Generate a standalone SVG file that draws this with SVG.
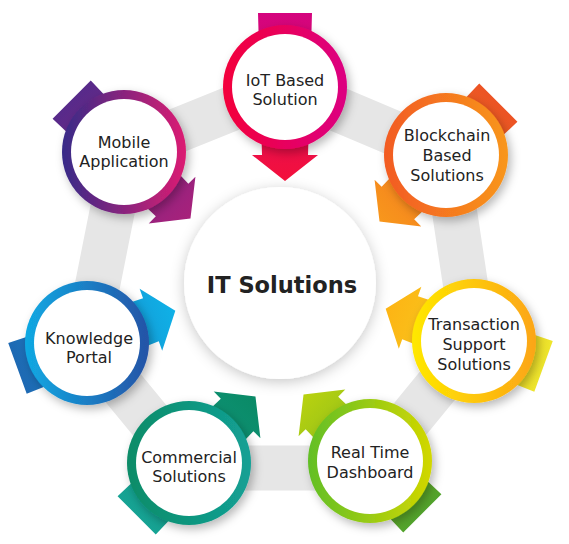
<svg xmlns="http://www.w3.org/2000/svg" width="569" height="544" viewBox="0 0 569 544">
  <defs>
    <filter id="shadow" x="-30%" y="-30%" width="160%" height="160%">
      <feDropShadow dx="3" dy="4" stdDeviation="5" flood-color="#000" flood-opacity="0.28"/>
    </filter>
    <filter id="hubShadow" x="-30%" y="-30%" width="160%" height="160%">
      <feDropShadow dx="0" dy="3" stdDeviation="7" flood-color="#000" flood-opacity="0.22"/>
    </filter>
    <!-- block arrow, pointing along +x, centred on the node -->
    <path id="arrow" d="M-74,-27 L68,-23 L68,-33 L94,0 L68,33 L68,23 L-74,27 Z"/>

    <!-- ring gradients (left to right) -->
    <linearGradient id="ringIot"><stop offset="0" stop-color="#f3003b"/><stop offset="1" stop-color="#dc0081"/></linearGradient>
    <linearGradient id="ringBlock"><stop offset="0" stop-color="#f25b22"/><stop offset="1" stop-color="#f8961d"/></linearGradient>
    <linearGradient id="ringTrans"><stop offset="0" stop-color="#ffe800"/><stop offset="1" stop-color="#fca516"/></linearGradient>
    <linearGradient id="ringReal"><stop offset="0" stop-color="#62bf26"/><stop offset="1" stop-color="#d2d700"/></linearGradient>
    <linearGradient id="ringComm"><stop offset="0" stop-color="#0a8c68"/><stop offset="1" stop-color="#13a095"/></linearGradient>
    <linearGradient id="ringKnow"><stop offset="0" stop-color="#10a9e3"/><stop offset="1" stop-color="#2553a6"/></linearGradient>
    <linearGradient id="ringMob"><stop offset="0" stop-color="#372b88"/><stop offset="1" stop-color="#dc1d72"/></linearGradient>

    <!-- arrow gradients (tail to head) -->
    <linearGradient id="arIot"><stop offset="0" stop-color="#d4047f"/><stop offset="1" stop-color="#f3103b"/></linearGradient>
    <linearGradient id="arBlock"><stop offset="0" stop-color="#ec5324"/><stop offset="1" stop-color="#f8971c"/></linearGradient>
    <linearGradient id="arTrans"><stop offset="0" stop-color="#eee52c"/><stop offset="1" stop-color="#fdb414"/></linearGradient>
    <linearGradient id="arReal"><stop offset="0" stop-color="#52a32c"/><stop offset="1" stop-color="#b9d20f"/></linearGradient>
    <linearGradient id="arComm"><stop offset="0" stop-color="#16a394"/><stop offset="1" stop-color="#0a8a66"/></linearGradient>
    <linearGradient id="arKnow"><stop offset="0" stop-color="#1e69b3"/><stop offset="1" stop-color="#0fb1e7"/></linearGradient>
    <linearGradient id="arMob"><stop offset="0" stop-color="#572a8a"/><stop offset="1" stop-color="#a8217b"/></linearGradient>
  </defs>
  <style>
    .band { fill: none; stroke: #e6e6e6; stroke-width: 45; stroke-linejoin: miter; }
    .ring { filter: url(#shadow); }
    .face { fill: #ffffff; }
    .label { font-family: "DejaVu Sans", "Liberation Sans", sans-serif; font-size: 16px; fill: #222222; text-anchor: middle; }
    .title { font-family: "DejaVu Sans", "Liberation Sans", sans-serif; font-size: 22.5px; font-weight: bold; fill: #222222; text-anchor: middle; }
  </style>

  <!-- connectors: grey heptagon band linking the nodes -->
  <g id="connectors">
    <polygon class="band" points="285,87 446,155 474,341 370,468 189,468 86,343 124,152"/>
  </g>

  <!-- hub -->
  <g id="hub">
    <circle cx="280" cy="283" r="96" fill="#ffffff" filter="url(#hubShadow)"/>
    <text class="title" x="282" y="293">IT Solutions</text>
  </g>

  <g id="node-iot" transform="translate(285,87)">
    <use href="#arrow" fill="url(#arIot)" transform="rotate(90)"/>
    <circle class="ring" r="62" fill="url(#ringIot)"/>
    <circle class="face" r="53"/>
    <text class="label" y="-1">IoT Based</text>
    <text class="label" y="18">Solution</text>
  </g>

  <g id="node-blockchain" transform="translate(446,155)">
    <use href="#arrow" fill="url(#arBlock)" transform="rotate(135)"/>
    <circle class="ring" r="62" fill="url(#ringBlock)"/>
    <circle class="face" r="53"/>
    <text class="label" x="1" y="-14">Blockchain</text>
    <text class="label" x="1" y="6">Based</text>
    <text class="label" x="1" y="26">Solutions</text>
  </g>

  <g id="node-transaction" transform="translate(474,341)">
    <use href="#arrow" fill="url(#arTrans)" transform="rotate(200)"/>
    <circle class="ring" r="62" fill="url(#ringTrans)"/>
    <circle class="face" r="53"/>
    <text class="label" y="-11">Transaction</text>
    <text class="label" y="9">Support</text>
    <text class="label" y="29">Solutions</text>
  </g>

  <g id="node-realtime" transform="translate(370,461)">
    <use href="#arrow" fill="url(#arReal)" transform="rotate(225)"/>
    <circle class="ring" r="62" fill="url(#ringReal)"/>
    <circle class="face" r="53"/>
    <text class="label" y="-3">Real Time</text>
    <text class="label" y="17">Dashboard</text>
  </g>

  <g id="node-commercial" transform="translate(189,463)">
    <use href="#arrow" fill="url(#arComm)" transform="rotate(315)"/>
    <circle class="ring" r="62" fill="url(#ringComm)"/>
    <circle class="face" r="53"/>
    <text class="label" y="0">Commercial</text>
    <text class="label" y="19">Solutions</text>
  </g>

  <g id="node-knowledge" transform="translate(87,343)">
    <use href="#arrow" fill="url(#arKnow)" transform="rotate(340)"/>
    <circle class="ring" r="62" fill="url(#ringKnow)"/>
    <circle class="face" r="53"/>
    <text class="label" x="2" y="1">Knowledge</text>
    <text class="label" x="2" y="20">Portal</text>
  </g>

  <g id="node-mobile" transform="translate(124,152)">
    <use href="#arrow" fill="url(#arMob)" transform="rotate(45)"/>
    <circle class="ring" r="62" fill="url(#ringMob)"/>
    <circle class="face" r="53"/>
    <text class="label" y="-4">Mobile</text>
    <text class="label" y="15">Application</text>
  </g>
</svg>
